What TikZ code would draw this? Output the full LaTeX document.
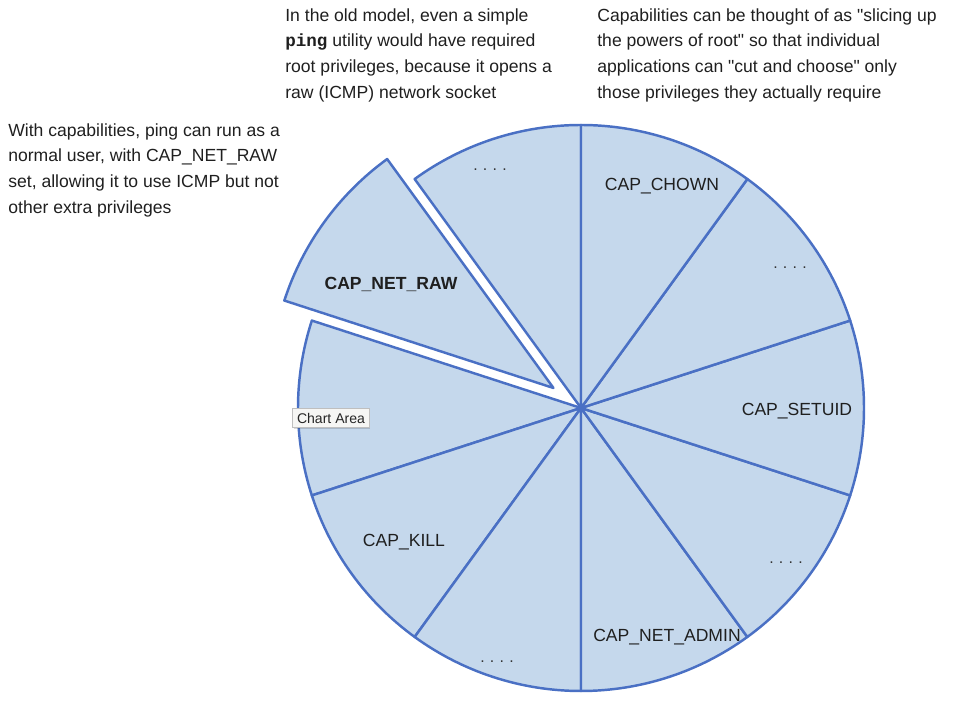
\documentclass[tikz,border=0pt]{standalone}
\usepackage{fontspec}
\setmainfont{Liberation Sans}
\setmonofont{Liberation Mono}
\usetikzlibrary{shadows}
\definecolor{capfill}{RGB}{197,216,236}
\definecolor{capline}{RGB}{74,112,196}
\definecolor{tipfill}{RGB}{246,246,244}
\tikzset{
  capslice/.style={fill=capfill, draw=capline, line width=1.4pt, line join=round},
  caplabel/.style={font=\fontsize{10}{12}\selectfont, text=black!88},
  capdots/.style ={font=\fontsize{9}{10}\selectfont, text=black!80},
  capnote/.style ={align=left, anchor=north west, inner sep=0pt,
                   font=\fontsize{10}{14.7}\selectfont, text=black!88},
  captip/.style  ={rectangle, draw=black!25, fill=tipfill, inner sep=2.5pt,
                   font=\fontsize{8}{9}\selectfont, text=black!85,
                   drop shadow={shadow xshift=0.5pt, shadow yshift=-0.6pt,
                                fill=black, opacity=0.15}},
}
\newcommand{\capR}{283}
\newcommand{\qq}{\textquotedbl}

\begin{document}
\begin{tikzpicture}[x=0.02cm, y=0.02cm]
  \useasboundingbox (0,0) rectangle (954,703);
  \coordinate (o) at (581,295);
  \coordinate (oraw) at ([shift={(144:34)}]o);
  % the slices that stay in place
  \foreach \s in {90,162,198,234,270,306,342,18,54}
    \draw[capslice] (o) -- ++(\s:\capR)
      arc[start angle=\s, end angle=\s+36, radius=\capR] -- cycle;
  % the slice that is pulled out
  \draw[capslice] (oraw) -- ++(126:\capR)
    arc[start angle=126, end angle=162, radius=\capR] -- cycle;
  \node[caplabel, font=\fontsize{10}{12}\selectfont\bfseries] (netraw) at (391,419) {CAP\_NET\_RAW};
  \node[capdots]  (d1)       at (490,533) {.\,\,.\,\,.\,\,.};
  \node[caplabel] (chown)    at (662,517) {CAP\_CHOWN};
  \node[capdots]  (d2)       at (790,435) {.\,\,.\,\,.\,\,.};
  \node[caplabel] (setuid)   at (797,292) {CAP\_SETUID};
  \node[capdots]  (d3)       at (786,140) {.\,\,.\,\,.\,\,.};
  \node[caplabel] (netadmin) at (667,66)  {CAP\_NET\_ADMIN};
  \node[capdots]  (d4)       at (497,41)  {.\,\,.\,\,.\,\,.};
  \node[caplabel] (kill)     at (404,161) {CAP\_KILL};
  \node[captip]   (tip)      at (331,285) {Chart Area};
  \node[capnote] (oldnote) at (285,695) {In the old model, even a simple\\
    {\ttfamily\bfseries ping} utility would have required\\
    root privileges, because it opens a\\
    raw (ICMP) network socket};
  \node[capnote] (slicenote) at (597,695) {Capabilities can be thought of as \qq slicing up\\
    the powers of root\qq{} so that individual\\
    applications can \qq cut and choose\qq{} only\\
    those privileges they actually require};
  \node[capnote] (pingnote) at (8,580) {With capabilities, ping can run as a\\
    normal user, with CAP\_NET\_RAW\\
    set, allowing it to use ICMP but not\\
    other extra privileges};
\end{tikzpicture}
\end{document}
